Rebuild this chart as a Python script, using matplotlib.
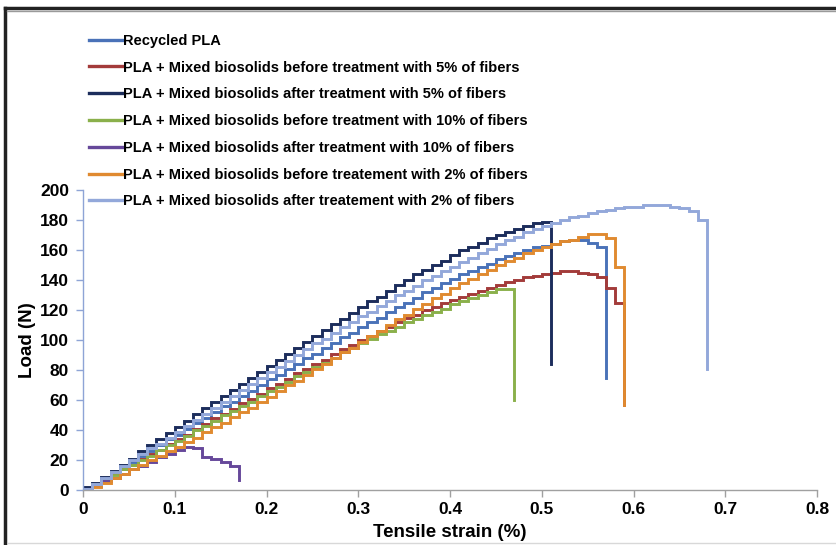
import numpy as np
import matplotlib
matplotlib.use("Agg")
import matplotlib.pyplot as plt
from matplotlib.lines import Line2D

plt.rcParams['font.family'] = ['Liberation Sans', 'DejaVu Sans']
plt.rcParams['font.weight'] = 'bold'

STEP = 0.01

labels = [
    "Recycled PLA",
    "PLA + Mixed biosolids before treatment with 5% of fibers",
    "PLA + Mixed biosolids after treatment with 5% of fibers",
    "PLA + Mixed biosolids before treatment with 10% of fibers",
    "PLA + Mixed biosolids after treatment with 10% of fibers",
    "PLA + Mixed biosolids before treatement with 2% of fibers",
    "PLA + Mixed biosolids after treatement with 2% of fibers",
]
colors = ['#4A72B8', '#A33B3A', '#1C2D5C', '#8AB04B', '#66489A', '#E08A30', '#93A8DA']

# Load (N) read every 0.01 % strain, starting at 0
recycled_pla = [1, 4, 8, 11, 15, 19, 23, 26, 30, 34, 37, 41, 45, 48, 52, 56, 59, 63, 66, 70,
                74, 77, 81, 84, 88, 91, 95, 98, 102, 105, 109, 112, 115, 119, 122, 125, 128, 132, 135, 138,
                141, 144, 146, 149, 151, 154, 156, 158, 160, 162, 163, 164, 166, 167, 167, 165, 162, 162]
before_5 = [1, 4, 7, 11, 14, 17, 21, 24, 27, 31, 34, 37, 41, 44, 48, 51, 54, 58, 61, 64,
            68, 71, 74, 78, 81, 84, 87, 91, 94, 97, 100, 103, 106, 109, 112, 115, 117, 120, 122, 125,
            127, 129, 131, 133, 135, 137, 139, 140, 142, 143, 144, 145, 146, 146, 145, 144, 142, 135, 125, 125]
after_5 = [2, 5, 9, 13, 17, 21, 26, 30, 34, 38, 42, 46, 51, 55, 59, 63, 67, 71, 75, 79,
           83, 87, 91, 95, 99, 103, 107, 111, 114, 118, 122, 126, 129, 133, 137, 140, 144, 147, 150, 153,
           157, 160, 162, 165, 168, 170, 172, 174, 176, 178, 179, 179]
before_10 = [1, 4, 7, 10, 14, 17, 20, 23, 27, 30, 33, 36, 40, 43, 46, 50, 53, 56, 59, 63,
             66, 69, 72, 76, 79, 82, 85, 88, 92, 95, 98, 101, 104, 106, 109, 112, 114, 117, 119, 121,
             124, 126, 128, 130, 132, 134, 134, 134]
after_10 = [1, 3, 6, 8, 11, 14, 16, 19, 22, 24, 27, 29, 28, 22, 21, 19, 16, 14]
before_2 = [0, 2, 5, 8, 11, 14, 17, 20, 23, 26, 29, 32, 35, 39, 42, 45, 49, 52, 55, 59,
            62, 66, 70, 73, 77, 81, 84, 88, 92, 95, 99, 103, 106, 110, 114, 117, 121, 124, 128, 131,
            135, 138, 141, 144, 147, 150, 153, 155, 158, 160, 162, 164, 166, 167, 169, 171, 171, 168, 149, 149]
after_2 = [1, 4, 8, 12, 16, 20, 24, 28, 31, 35, 39, 43, 47, 51, 55, 59, 63, 67, 71, 75,
           79, 82, 86, 90, 94, 98, 101, 105, 109, 112, 116, 119, 123, 126, 130, 133, 136, 140, 143, 146,
           149, 152, 155, 158, 161, 164, 167, 169, 172, 174, 176, 178, 180, 182, 183, 185, 186, 187, 188, 189,
           189, 190, 190, 190, 189, 188, 186, 180, 180]

# Load left after failure (end of the vertical drop)
failure_loads = [75, 57, 84, 60, 7, 57, 81]

series = [recycled_pla, before_5, after_5, before_10, after_10, before_2, after_2]

W, H = 836, 545
fig = plt.figure(figsize=(W / 100, H / 100), dpi=100)
ax = fig.add_axes([83 / W, 1 - 490 / H, (817 - 83) / W, (490 - 190) / H])

handles = []
for load, fail, col, lab in zip(series, failure_loads, colors, labels):
    x = list(np.arange(len(load)) * STEP)
    y = list(load)
    x.append(x[-1])
    y.append(fail)
    ax.plot(x, y, drawstyle='steps-post', color=col, lw=2.1, solid_joinstyle='miter')
    handles.append(Line2D([], [], color=col, lw=2.4))

ax.set_xlim(0, 0.8)
ax.set_ylim(0, 200)
ax.set_xticks(np.arange(0, 0.81, 0.1))
ax.set_xticklabels(['0', '0.1', '0.2', '0.3', '0.4', '0.5', '0.6', '0.7', '0.8'])
ax.set_yticks(np.arange(0, 201, 20))
for s in ['top', 'right']:
    ax.spines[s].set_visible(False)
ax.spines['left'].set_color('#8EA4D6')
ax.spines['bottom'].set_color('#A0A0A0')
ax.spines['left'].set_linewidth(1.0)
ax.spines['bottom'].set_linewidth(1.0)
ax.tick_params(axis='y', direction='out', length=5, width=1, color='#8EA4D6', pad=5, labelsize=12.5)
ax.tick_params(axis='x', direction='out', length=5, width=1, color='#A0A0A0', pad=4, labelsize=12.5)
for t in ax.get_xticklabels() + ax.get_yticklabels():
    t.set_fontweight('bold')

ax.set_xlabel('Tensile strain (%)', fontsize=13.5, fontweight='bold', labelpad=5)
ax.set_ylabel('Load (N)', fontsize=13.5, fontweight='bold', labelpad=3)

leg = fig.legend(handles, labels, loc='upper left', bbox_to_anchor=(83 / W, 1 - 28 / H),
                 frameon=False, handlelength=2.3, handletextpad=0.05, labelspacing=0.875,
                 prop={'size': 10.5, 'weight': 'bold'}, borderaxespad=0)

# Frame around the picture
fig.add_artist(Line2D([5 / W, 1.0], [1 - 8 / H, 1 - 8 / H], transform=fig.transFigure,
                      color='#222222', lw=2.5))
fig.add_artist(Line2D([5 / W, 5 / W], [1 - 8 / H, 0.0], transform=fig.transFigure,
                      color='#222222', lw=2.5))
fig.add_artist(Line2D([7 / W, 1.0], [1 - 11 / H, 1 - 11 / H], transform=fig.transFigure,
                      color='#9A9A9A', lw=1.0))
fig.add_artist(Line2D([8 / W, 1.0], [1 - 543 / H, 1 - 543 / H], transform=fig.transFigure,
                      color='#D8D8D8', lw=1.0))

fig.savefig('out.png', dpi=100)
